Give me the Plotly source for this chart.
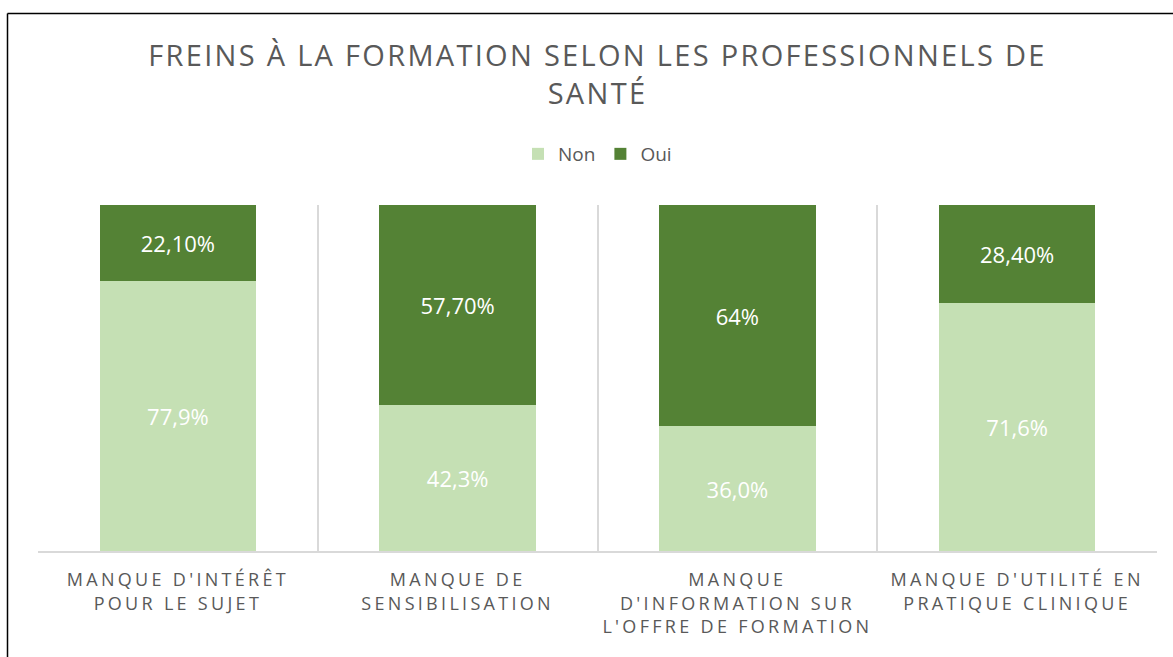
import plotly.graph_objects as go

categories = [
    "MANQUE D'INTÉRÊT<br>POUR LE SUJET",
    "MANQUE DE<br>SENSIBILISATION",
    "MANQUE<br>D'INFORMATION SUR<br>L'OFFRE DE FORMATION",
    "MANQUE D'UTILITÉ EN<br>PRATIQUE CLINIQUE",
]
non_values = [77.9, 42.3, 36.0, 71.6]
oui_values = [22.1, 57.7, 64.0, 28.4]
non_labels = ["77,9%", "42,3%", "36,0%", "71,6%"]
oui_labels = ["22,10%", "57,70%", "64%", "28,40%"]

title_text = "FREINS À LA FORMATION SELON LES PROFESSIONNELS DE<br>SANTÉ"

LIGHT = "#C5E0B4"
DARK = "#548235"
GRAY = "#595959"
GRID = "#D9D9D9"
FONT = "Open Sans"

fig = go.Figure()
fig.add_trace(go.Bar(
    name="Non", x=categories, y=non_values, text=non_labels,
    textposition="inside", insidetextanchor="middle", textangle=0,
    textfont=dict(family=FONT, size=22, color="white"),
    marker=dict(color=LIGHT, line=dict(width=0)), width=0.56,
    hoverinfo="skip",
))
fig.add_trace(go.Bar(
    name="Oui", x=categories, y=oui_values, text=oui_labels,
    textposition="inside", insidetextanchor="middle", textangle=0,
    textfont=dict(family=FONT, size=22, color="white"),
    marker=dict(color=DARK, line=dict(width=0)), width=0.56,
    hoverinfo="skip",
))

L, R, T, B = 38, 16, 205, 106
W, H = 1173, 657
pw, ph = W - L - R, H - T - B

fig.update_layout(
    width=W, height=H,
    margin=dict(l=L, r=R, t=T, b=B, autoexpand=False),
    paper_bgcolor="white", plot_bgcolor="white",
    barmode="stack",
    title=dict(
        text=title_text, x=0.5, xanchor="center", xref="paper",
        y=1 - 66 / H, yanchor="top", yref="container",
        font=dict(family=FONT, size=29, color=GRAY),
    ),
    legend=dict(
        orientation="h", x=0.5, xanchor="center", y=(551 - 154) / ph,
        yanchor="middle", traceorder="normal",
        font=dict(family=FONT, size=19, color=GRAY),
        bgcolor="rgba(0,0,0,0)",
    ),
    xaxis=dict(
        type="category", tickson="boundaries", showgrid=True, gridcolor=GRID,
        gridwidth=1.5, showline=True, linecolor=GRID, linewidth=1.5,
        ticks="", tickfont=dict(family=FONT, size=18, color=GRAY),
        ticklabelstandoff=12,
        range=[-0.5, 3.5],
    ),
    yaxis=dict(range=[0, 100], visible=False, showgrid=False, zeroline=False),
    showlegend=True,
)

# outer chart frame (cropped on right and bottom)
fx = (7.5 - L) / pw
fy = (551 - 13.5) / ph
fig.add_shape(type="line", xref="paper", yref="paper", x0=fx, x1=fx, y0=-1, y1=fy,
              line=dict(color="black", width=1.5))
fig.add_shape(type="line", xref="paper", yref="paper", x0=fx, x1=1.2, y0=fy, y1=fy,
              line=dict(color="black", width=1.5))

post = """
var s=document.createElement('style');
s.innerHTML='body{margin:0;} .gtitle{letter-spacing:2.3px;} .xtick text{letter-spacing:3.3px;}';
document.head.appendChild(s);
"""
fig.write_html("out.html", post_script=post, config=dict(displayModeBar=False))
